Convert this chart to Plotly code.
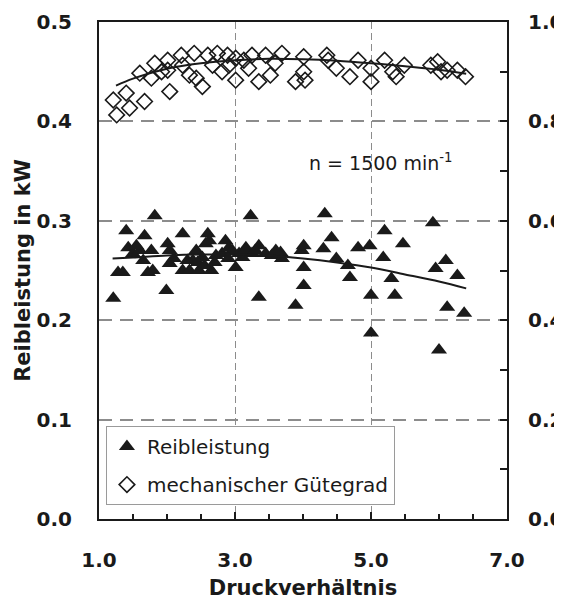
import plotly.graph_objects as go

# Reibleistung (kW) - triangles, left axis
rb_x = [1.21, 1.28, 1.35, 1.40, 1.43, 1.50, 1.60, 1.67, 1.72, 1.77, 1.79, 1.82,
        1.99, 2.01, 2.04, 2.04, 2.23, 2.23, 2.33, 2.38, 2.43, 2.47, 2.52, 2.57,
        2.60, 2.62, 2.65, 2.72, 2.81, 2.86, 2.91, 2.96, 3.01, 3.06, 3.11, 3.16,
        3.23, 3.25, 3.35, 3.35, 3.45, 3.54, 3.67, 3.69, 3.89, 3.98, 4.01, 4.01,
        4.01, 4.30, 4.32, 4.42, 4.49, 4.66, 4.69, 4.81, 4.98, 5.00, 5.00, 5.18,
        5.20, 5.30, 5.35, 5.47, 5.91, 5.95, 6.00, 6.10, 6.12, 6.27, 6.37,
        1.55, 1.65, 2.10, 2.30, 2.45, 2.55, 2.70, 2.90, 3.15, 3.30, 3.60]
rb_y = [0.222, 0.248, 0.248, 0.290, 0.273, 0.267, 0.270, 0.285, 0.248, 0.270, 0.250, 0.305,
        0.230, 0.277, 0.270, 0.257, 0.287, 0.250, 0.250, 0.260, 0.270, 0.250, 0.263, 0.277,
        0.287, 0.280, 0.250, 0.265, 0.267, 0.280, 0.273, 0.270, 0.253, 0.267, 0.263, 0.273,
        0.305, 0.267, 0.275, 0.223, 0.267, 0.265, 0.268, 0.262, 0.215, 0.270, 0.275, 0.253,
        0.235, 0.272, 0.307, 0.283, 0.262, 0.255, 0.243, 0.273, 0.275, 0.225, 0.187, 0.263,
        0.290, 0.242, 0.225, 0.277, 0.298, 0.252, 0.170, 0.260, 0.213, 0.245, 0.207,
        0.275, 0.260, 0.262, 0.260, 0.258, 0.255, 0.258, 0.262, 0.270, 0.270, 0.270]

# mechanischer Gütegrad (-) - open diamonds, right axis
mg_x = [1.21, 1.26, 1.40, 1.45, 1.60, 1.67, 1.77, 1.82, 1.92, 2.01, 2.04, 2.01,
        2.21, 2.23, 2.33, 2.40, 2.43, 2.52, 2.60, 2.67, 2.74, 2.81, 2.89, 2.91,
        3.01, 3.01, 3.13, 3.20, 3.25, 3.35, 3.45, 3.52, 3.59, 3.69, 3.89, 4.01,
        4.01, 4.03, 4.35, 4.37, 4.49, 4.69, 4.81, 5.00, 5.00, 5.20, 5.32, 5.37,
        5.49, 5.88, 5.98, 6.03, 6.12, 6.27, 6.39]
mg_y = [0.843, 0.813, 0.857, 0.827, 0.897, 0.840, 0.887, 0.917, 0.900, 0.923, 0.860, 0.903,
        0.933, 0.913, 0.893, 0.937, 0.887, 0.870, 0.933, 0.913, 0.937, 0.900, 0.933, 0.913,
        0.927, 0.883, 0.923, 0.907, 0.933, 0.880, 0.933, 0.893, 0.917, 0.937, 0.880, 0.930,
        0.900, 0.883, 0.933, 0.923, 0.907, 0.890, 0.923, 0.880, 0.907, 0.923, 0.900, 0.890,
        0.913, 0.913, 0.920, 0.900, 0.903, 0.903, 0.890]

# Regression curves
rb_fit_x = [1.2, 1.5, 2.0, 2.5, 3.0, 3.5, 4.0, 4.5, 5.0, 5.5, 6.0, 6.4]
rb_fit_y = [0.262, 0.263, 0.265, 0.266, 0.266, 0.265, 0.262, 0.258, 0.253, 0.246, 0.239, 0.232]
mg_fit_x = [1.25, 1.5, 2.0, 2.5, 3.0, 3.5, 4.0, 4.5, 5.0, 5.5, 6.0, 6.4]
mg_fit_y = [0.872, 0.886, 0.906, 0.917, 0.923, 0.926, 0.925, 0.922, 0.917, 0.911, 0.904, 0.896]

x_tick_vals = [1, 3, 5, 7]
x_tick_text = ["1.0", "3.0", "5.0", "7.0"]
y_tick_vals = [0.0, 0.1, 0.2, 0.3, 0.4, 0.5]
y_tick_text = ["0.0", "0.1", "0.2", "0.3", "0.4", "0.5"]
y2_tick_vals = [0.0, 0.2, 0.4, 0.6, 0.8, 1.0]
y2_tick_text = ["0.0", "0.2", "0.4", "0.6", "0.8", "1.0"]

FONT = "DejaVu Sans"
INK = "#1a1a1a"
GRID = "#8c8c8c"

fig = go.Figure()
fig.add_trace(go.Scatter(x=rb_x, y=rb_y, mode="markers", name="Reibleistung",
                         legendgroup="a",
                         marker=dict(symbol="triangle-up", size=14, color=INK)))
fig.add_trace(go.Scatter(x=rb_fit_x, y=rb_fit_y, mode="lines", showlegend=False,
                         line=dict(color=INK, width=2, shape="spline")))
fig.add_trace(go.Scatter(x=mg_x, y=mg_y, mode="markers", name="mechanischer Gütegrad",
                         legendgroup="b", yaxis="y2",
                         marker=dict(symbol="diamond-open", size=12, color=INK,
                                     line=dict(width=1.6, color=INK))))
fig.add_trace(go.Scatter(x=mg_fit_x, y=mg_fit_y, mode="lines", showlegend=False,
                         yaxis="y2", line=dict(color=INK, width=2, shape="spline")))

fig.add_annotation(x=5.15, y=0.359, xref="x", yref="y",
                   text="n = 1500 min<sup>-1</sup>", showarrow=False,
                   font=dict(family=FONT, size=19, color=INK))

tickfont = dict(family=FONT, size=20, color=INK, weight="bold")

# the page body has an 8px margin, so the figure is sized 8px smaller
fig.update_layout(
    width=554, height=592,
    margin=dict(l=91, r=55, t=14, b=81),
    paper_bgcolor="white", plot_bgcolor="white",
    font=dict(family=FONT, color=INK),
    xaxis=dict(range=[1, 7], tickvals=x_tick_vals, ticktext=x_tick_text,
               showgrid=True, gridcolor=GRID, gridwidth=1.2, griddash="7px,4px",
               showline=True, linecolor=INK, linewidth=2, mirror=True,
               ticks="inside", ticklen=7, tickcolor=INK, tickwidth=1.5,
               minor=dict(dtick=0.5, ticks="inside", ticklen=5, tickcolor=INK, tickwidth=1.5),
               ticklabelstandoff=22, tickfont=tickfont, zeroline=False, automargin=False,
               title=dict(text="Druckverhältnis", standoff=10,
                          font=dict(family=FONT, size=21, color=INK, weight="bold"))),
    yaxis=dict(range=[0, 0.5], tickvals=y_tick_vals, ticktext=y_tick_text,
               showgrid=True, gridcolor=GRID, gridwidth=1.5, griddash="13px,8px",
               showline=True, linecolor=INK, linewidth=2,
               ticks="", ticklabelstandoff=21, tickfont=tickfont, zeroline=False,
               automargin=False,
               title=dict(text="Reibleistung in kW", standoff=0,
                          font=dict(family=FONT, size=21, color=INK, weight="bold"))),
    yaxis2=dict(range=[0, 1], overlaying="y", side="right",
                tickvals=y2_tick_vals, ticktext=y2_tick_text,
                showgrid=False, showline=True, linecolor=INK, linewidth=2,
                ticks="inside", ticklen=7, tickcolor=INK, tickwidth=1.5,
                minor=dict(dtick=0.1, ticks="inside", ticklen=7, tickcolor=INK, tickwidth=1.5),
                ticklabelstandoff=15, tickfont=tickfont, zeroline=False, automargin=False),
    legend=dict(x=0.017, y=0.187, xanchor="left", yanchor="top",
                bgcolor="white", bordercolor="#9a9a9a", borderwidth=1,
                font=dict(family=FONT, size=20, color=INK),
                traceorder="grouped", tracegroupgap=9, itemwidth=30),
)

fig.write_html(
    "out.html",
    post_script="document.documentElement.style.overflow='hidden';"
                "document.body.style.overflow='hidden';",
)
